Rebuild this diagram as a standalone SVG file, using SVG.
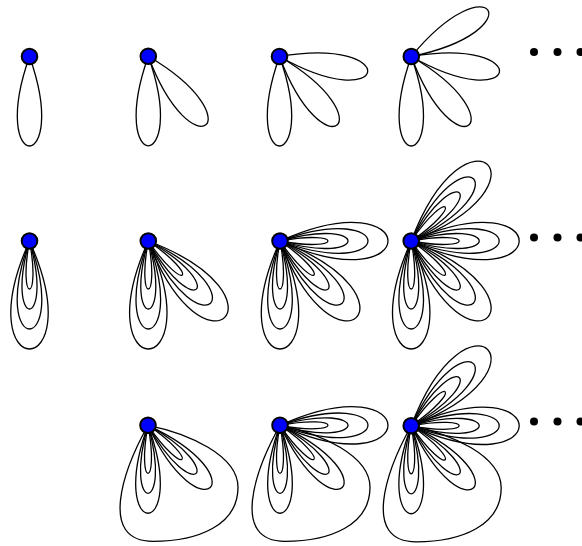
<svg xmlns="http://www.w3.org/2000/svg" xmlns:xlink="http://www.w3.org/1999/xlink" width="582" height="546" viewBox="0 0 582 546">
<style>
.lp{fill:none;stroke:#000;stroke-width:1.3;stroke-linejoin:round}
.nd{fill:#0000ff;stroke:#000;stroke-width:2}
.dot{fill:#000}
</style>
<defs>
<path id="s1" class="lp" d="M0,0 C119.3,-42.2 119.3,42.2 0,0"/>
<path id="a1" class="lp" d="M0,0 C64,-12.1 64,12.1 0,0"/>
<path id="a2" class="lp" d="M0,0 C90.7,-26 90.7,26 0,0"/>
<path id="a3" class="lp" d="M0,0 C117.3,-42.6 117.3,42.6 0,0"/>
<path id="a4" class="lp" d="M0,0 C144,-64.7 144,64.7 0,0"/>
<g id="f3"><use href="#a1"/><use href="#a2"/><use href="#a3"/></g>
<g id="f4"><use href="#a1"/><use href="#a2"/><use href="#a3"/><use href="#a4"/></g>
<path id="big" class="lp" d="M0,0 C-25,45 -50,116 5,116 C50,116 90,100 90,62 C90,30 40,8 0,0"/>
</defs>
<g id="connectors">
<g transform="translate(29.5,56.5)"><use href="#s1" transform="rotate(90)"/></g>
<g transform="translate(148.3,56.3)"><use href="#s1" transform="rotate(90)"/><use href="#s1" transform="rotate(50)"/></g>
<g transform="translate(279.5,56.5)"><use href="#s1" transform="rotate(90)"/><use href="#s1" transform="rotate(50)"/><use href="#s1" transform="rotate(10)"/></g>
<g transform="translate(411.3,56.5)"><use href="#s1" transform="rotate(90)"/><use href="#s1" transform="rotate(50)"/><use href="#s1" transform="rotate(10)"/><use href="#s1" transform="rotate(-31)"/></g>
<g transform="translate(29.5,241)"><use href="#f4" transform="rotate(90)"/></g>
<g transform="translate(148.3,241)"><use href="#f4" transform="rotate(90)"/><use href="#f4" transform="rotate(45)"/></g>
<g transform="translate(280,241)"><use href="#f4" transform="rotate(90)"/><use href="#f4" transform="rotate(45)"/><use href="#f4" transform="rotate(0)"/></g>
<g transform="translate(411.2,241)"><use href="#f4" transform="rotate(90)"/><use href="#f4" transform="rotate(45)"/><use href="#f4" transform="rotate(0)"/><use href="#f4" transform="rotate(-45)"/></g>
<g transform="translate(148,425.3)"><use href="#f3" transform="rotate(90)"/><use href="#f3" transform="rotate(45)"/><use href="#big"/></g>
<g transform="translate(280,425.3)"><use href="#f3" transform="rotate(90)"/><use href="#f3" transform="rotate(45)"/><use href="#big"/><use href="#f4" transform="rotate(0)"/></g>
<g transform="translate(411.2,425.8)"><use href="#f3" transform="rotate(90)"/><use href="#f3" transform="rotate(45)"/><use href="#big"/><use href="#f4" transform="rotate(0)"/><use href="#f4" transform="rotate(-45)"/></g>
</g>
<g id="n-r1c1"><circle class="nd" cx="29.5" cy="56.5" r="7.8"/></g>
<g id="n-r1c2"><circle class="nd" cx="148.3" cy="56.3" r="7.8"/></g>
<g id="n-r1c3"><circle class="nd" cx="279.5" cy="56.5" r="7.8"/></g>
<g id="n-r1c4"><circle class="nd" cx="411.3" cy="56.5" r="7.8"/></g>
<g id="n-r2c1"><circle class="nd" cx="29.5" cy="241" r="7.8"/></g>
<g id="n-r2c2"><circle class="nd" cx="148.3" cy="241" r="7.8"/></g>
<g id="n-r2c3"><circle class="nd" cx="280" cy="241" r="7.8"/></g>
<g id="n-r2c4"><circle class="nd" cx="411.2" cy="241" r="7.8"/></g>
<g id="n-r3c2"><circle class="nd" cx="148" cy="425.3" r="7.8"/></g>
<g id="n-r3c3"><circle class="nd" cx="280" cy="425.3" r="7.8"/></g>
<g id="n-r3c4"><circle class="nd" cx="411.2" cy="425.8" r="7.8"/></g>
<g id="ellipses">
<circle class="dot" cx="534" cy="52" r="4"/><circle class="dot" cx="557.5" cy="52" r="4"/><circle class="dot" cx="580.5" cy="52" r="4"/>
<circle class="dot" cx="534" cy="237.5" r="4"/><circle class="dot" cx="557.5" cy="237.5" r="4"/><circle class="dot" cx="580.5" cy="237.5" r="4"/>
<circle class="dot" cx="534" cy="421.5" r="4"/><circle class="dot" cx="557.5" cy="421.5" r="4"/><circle class="dot" cx="580.5" cy="421.5" r="4"/>
</g>
</svg>
